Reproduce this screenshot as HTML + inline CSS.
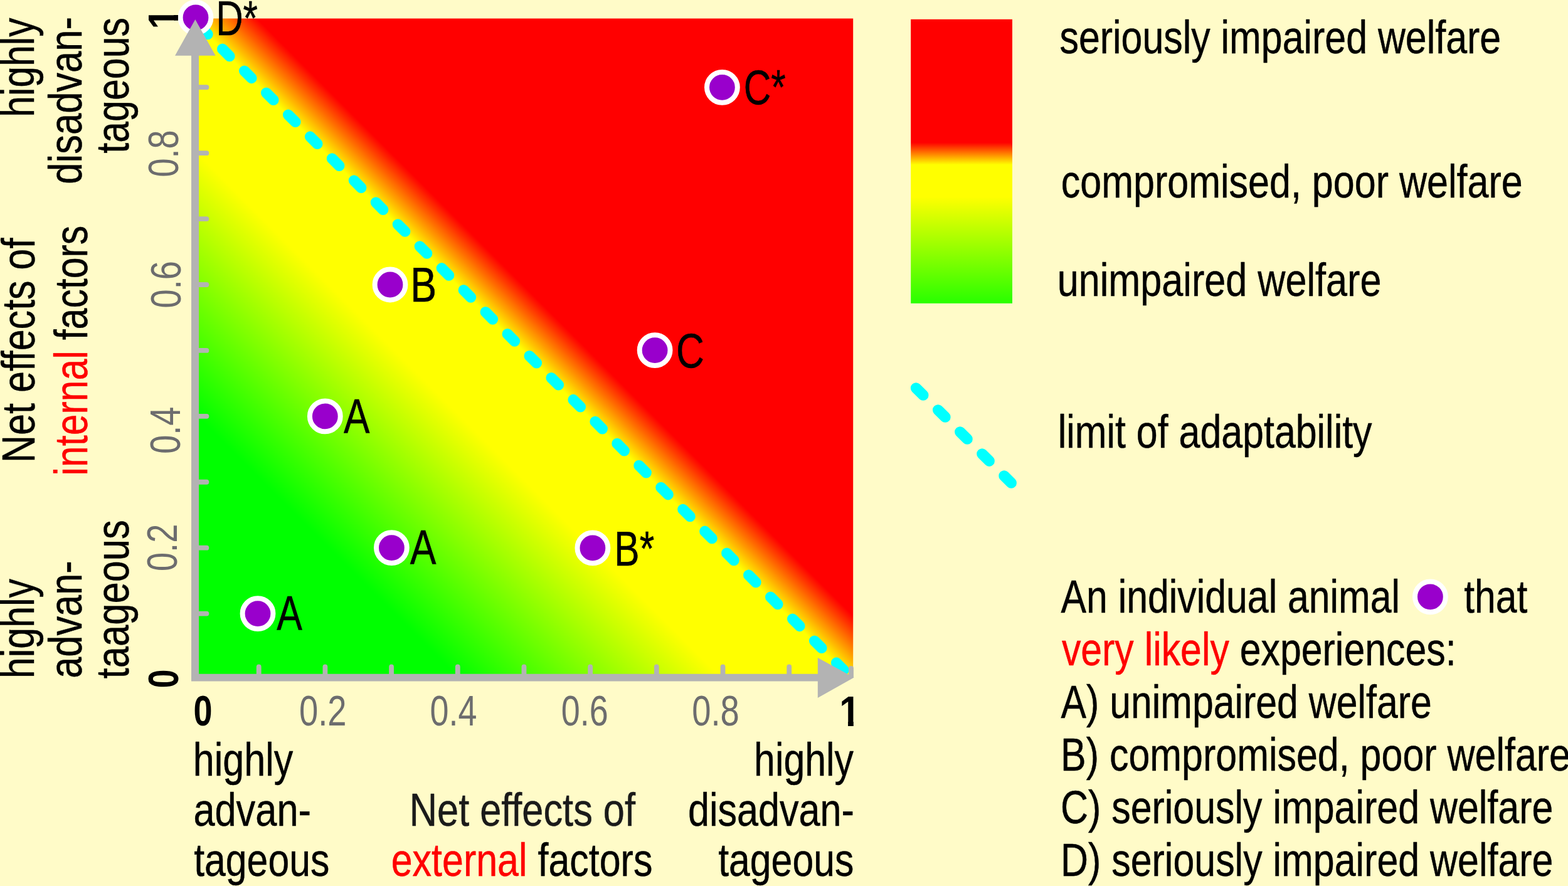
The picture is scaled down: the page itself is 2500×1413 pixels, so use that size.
<!DOCTYPE html>
<html lang="en"><head><meta charset="utf-8"><title>Welfare and the limit of adaptability</title>
<style>
html,body{margin:0;padding:0;background:#FFFBC8;}
body{width:2500px;height:1413px;overflow:hidden;}
svg{display:block;}
text{font-family:"Liberation Sans",Arial,Helvetica,sans-serif;font-size:75px;fill:#000;stroke:#000;stroke-width:0.5px;stroke-linejoin:round;}
.tk{font-size:68px;fill:#6C6C6E;stroke:none;}
.tb{font-size:68px;font-weight:bold;stroke:none;}
.d{fill:#1A1A1A;stroke:#1A1A1A;}
.r{fill:#FF0000;stroke:#FF0000;}
</style></head><body>
<svg width="2500" height="1413" viewBox="0 0 2500 1413">
<defs>
<linearGradient id="g" x1="0" y1="1" x2="1" y2="0">
<stop offset="0" stop-color="#00FF00"/>
<stop offset="0.2" stop-color="#00FF00"/>
<stop offset="0.4" stop-color="#FFFF00"/>
<stop offset="0.497" stop-color="#FFFF00"/>
<stop offset="0.547" stop-color="#FF0000"/>
<stop offset="1" stop-color="#FF0000"/>
</linearGradient>
<linearGradient id="lg" x1="0" y1="0" x2="0" y2="1">
<stop offset="0" stop-color="#FF0000"/>
<stop offset="0.434" stop-color="#FF0000"/>
<stop offset="0.512" stop-color="#FFFF00"/>
<stop offset="0.625" stop-color="#FFFF00"/>
<stop offset="1" stop-color="#28FF00"/>
</linearGradient>
<clipPath id="one"><path d="M-20 -80 H80 V-8.14 H25.5 V10 H15.57 V-8.14 H-20 Z"/></clipPath>
</defs>
<rect id="bg" x="0" y="0" width="2500" height="1413" fill="#FFFBC8"/>
<g id="shapes">
<rect x="311" y="29.5" width="1049.2" height="1051" fill="url(#g)"/>
<line x1="319.7" y1="43.2" x2="1345.2" y2="1068.7" stroke="#00FFFF" stroke-width="17.3" stroke-linecap="round" stroke-dasharray="16.1 33.34"/>
<circle cx="411" cy="978.6" r="24.4" fill="#9900CC" stroke="#FFFFFF" stroke-width="8"/>
<circle cx="624.4" cy="873.6" r="24.4" fill="#9900CC" stroke="#FFFFFF" stroke-width="8"/>
<circle cx="518.3" cy="663.9" r="24.4" fill="#9900CC" stroke="#FFFFFF" stroke-width="8"/>
<circle cx="622" cy="454" r="24.4" fill="#9900CC" stroke="#FFFFFF" stroke-width="8"/>
<circle cx="944.9" cy="873.9" r="24.4" fill="#9900CC" stroke="#FFFFFF" stroke-width="8"/>
<circle cx="1044.1" cy="558.6" r="24.4" fill="#9900CC" stroke="#FFFFFF" stroke-width="8"/>
<circle cx="1151.4" cy="139.3" r="24.4" fill="#9900CC" stroke="#FFFFFF" stroke-width="8"/>
<circle cx="312" cy="28" r="24.4" fill="#9900CC" stroke="#FFFFFF" stroke-width="8"/>
<g stroke="#B3B3B3" stroke-width="7.8" stroke-linecap="round" fill="none">
<line x1="412.7" y1="1080.5" x2="412.7" y2="1063.4"/>
<line x1="518.39" y1="1080.5" x2="518.39" y2="1063.4"/>
<line x1="624.08" y1="1080.5" x2="624.08" y2="1063.4"/>
<line x1="729.77" y1="1080.5" x2="729.77" y2="1063.4"/>
<line x1="835.46" y1="1080.5" x2="835.46" y2="1063.4"/>
<line x1="941.15" y1="1080.5" x2="941.15" y2="1063.4"/>
<line x1="1046.84" y1="1080.5" x2="1046.84" y2="1063.4"/>
<line x1="1152.53" y1="1080.5" x2="1152.53" y2="1063.4"/>
<line x1="1258.22" y1="1080.5" x2="1258.22" y2="1063.4"/>
<line x1="311.0" y1="978.58" x2="329.4" y2="978.58"/>
<line x1="311.0" y1="873.66" x2="329.4" y2="873.66"/>
<line x1="311.0" y1="768.74" x2="329.4" y2="768.74"/>
<line x1="311.0" y1="663.82" x2="329.4" y2="663.82"/>
<line x1="311.0" y1="558.9" x2="329.4" y2="558.9"/>
<line x1="311.0" y1="453.98" x2="329.4" y2="453.98"/>
<line x1="311.0" y1="349.06" x2="329.4" y2="349.06"/>
<line x1="311.0" y1="244.14" x2="329.4" y2="244.14"/>
<line x1="311.0" y1="139.22" x2="329.4" y2="139.22"/>
</g>
<path d="M305 1086.6 H1310 V1074.7 H317.1 V60 H305 Z" fill="#B3B3B3"/>
<path d="M311.3 31 L343.6 88.7 H279 Z" fill="#B3B3B3"/>
<path d="M1361.6 1080.6 L1303.8 1049 V1113 Z" fill="#B3B3B3"/>
<path d="M1353.1 1080.6 V1065.8 A3.9 3.9 0 0 1 1360.9 1065.8 V1080.6 Z" fill="#B3B3B3"/>
<rect x="1452.2" y="30.8" width="161.8" height="453" fill="url(#lg)"/>
<line x1="1460.5" y1="618.8" x2="1612.3" y2="770.2" stroke="#00FFFF" stroke-width="17.3" stroke-linecap="round" stroke-dasharray="16.1 33.5"/>
<circle cx="2280.4" cy="951.8" r="24.4" fill="#9900CC" stroke="#FFFFFF" stroke-width="8"/>
</g>
<g id="pA1" transform="translate(441.22 1005) scale(0.8132 1.04)"><text>A</text></g>
<g id="pA2" transform="translate(653.8 900) scale(0.8334 1.04)"><text>A</text></g>
<g id="pA3" transform="translate(548.06 690.8) scale(0.8302 1.04)"><text>A</text></g>
<g id="pB" transform="translate(654.26 480.8) scale(0.8373 1.04)"><text>B</text></g>
<g id="pBs" transform="translate(979.37 901.6) scale(0.8053 1.04)"><text>B*</text></g>
<g id="pC" transform="translate(1077.89 585.8) scale(0.8273 1.04)"><text>C</text></g>
<g id="pCs" transform="translate(1185.66 166) scale(0.8043 1.04)"><text>C*</text></g>
<g id="pDs" transform="translate(344.18 55.5) scale(0.8023 1.04)"><text>D*</text></g>
<g id="x0" transform="translate(308.47 1157) scale(0.7941 1)"><text class="tb">0</text></g>
<g id="x2" transform="translate(476.95 1156.8) scale(0.8002 1)"><text class="tk">0.2</text></g>
<g id="x4" transform="translate(685.58 1156.8) scale(0.7925 1)"><text class="tk">0.4</text></g>
<g id="x6" transform="translate(894.87 1156.8) scale(0.7931 1)"><text class="tk">0.6</text></g>
<g id="x8" transform="translate(1103.19 1156.8) scale(0.8005 1)"><text class="tk">0.8</text></g>
<g id="x1" transform="translate(1338.36 1157.5) scale(0.8800 1)"><text class="tb" clip-path="url(#one)">1</text></g>
<g id="y0" transform="translate(284 1097.5) rotate(-90) scale(0.7950 1)"><text class="tb">0</text></g>
<g id="y2" transform="translate(281.6 911.06) rotate(-90) scale(0.7970 1)"><text class="tk">0.2</text></g>
<g id="y4" transform="translate(286.6 723.83) rotate(-90) scale(0.7930 1)"><text class="tk">0.4</text></g>
<g id="y6" transform="translate(288 491.44) rotate(-90) scale(0.7970 1)"><text class="tk">0.6</text></g>
<g id="y8" transform="translate(284.1 282.6) rotate(-90) scale(0.7970 1)"><text class="tk">0.8</text></g>
<g id="y1" transform="translate(284 46.5) rotate(-90) scale(0.8800 1)"><text class="tb" clip-path="url(#one)">1</text></g>
<g id="xl1" transform="translate(307.78 1237.3) scale(0.8143 1)"><text>highly</text></g>
<g id="xl2" transform="translate(308.38 1317.4) scale(0.8180 1)"><text>advan-</text></g>
<g id="xl3" transform="translate(309.24 1397.1) scale(0.8095 1)"><text>tageous</text></g>
<g id="xc1" transform="translate(652.74 1317.4) scale(0.8180 1)"><text class="d">Net effects of</text></g>
<g id="xc2" transform="translate(623.69 1397.1) scale(0.8128 1)"><text><tspan class="r">external</tspan> factors</text></g>
<g id="xr1" transform="translate(1202.12 1237.3) scale(0.8102 1)"><text>highly</text></g>
<g id="xr2" transform="translate(1096.93 1317.4) scale(0.8148 1)"><text>disadvan-</text></g>
<g id="xr3" transform="translate(1145.24 1397.1) scale(0.8095 1)"><text>tageous</text></g>
<g id="yt1" transform="translate(53.7 186.65) rotate(-90) scale(0.8079 1)"><text>highly</text></g>
<g id="yt2" transform="translate(129.8 293.65) rotate(-90) scale(0.8200 1)"><text>disadvan-</text></g>
<g id="yt3" transform="translate(205.3 244.79) rotate(-90) scale(0.8123 1)"><text>tageous</text></g>
<g id="yc1" transform="translate(55 737.94) rotate(-90) scale(0.8136 1)"><text>Net effects of</text></g>
<g id="yc2" transform="translate(139.2 758.52) rotate(-90) scale(0.8106 1)"><text><tspan class="r">internal</tspan> factors</text></g>
<g id="yb1" transform="translate(53.7 1082.06) rotate(-90) scale(0.8115 1)"><text>highly</text></g>
<g id="yb2" transform="translate(129.8 1081.83) rotate(-90) scale(0.8177 1)"><text>advan-</text></g>
<g id="yb3" transform="translate(205.3 1082.26) rotate(-90) scale(0.8200 1)"><text>taageous</text></g>
<g id="l1" transform="translate(1689.51 84.5) scale(0.8116 1)"><text>seriously impaired welfare</text></g>
<g id="l2" transform="translate(1691.69 315) scale(0.8139 1)"><text>compromised, poor welfare</text></g>
<g id="l3" transform="translate(1685.76 472) scale(0.8156 1)"><text>unimpaired welfare</text></g>
<g id="l4" transform="translate(1686.73 713.6) scale(0.8119 1)"><text>limit of adaptability</text></g>
<g id="l5" transform="translate(1691.52 977) scale(0.8105 1)"><text>An individual animal</text></g>
<g id="l6" transform="translate(2334.22 977) scale(0.8084 1)"><text>that</text></g>
<g id="l7" transform="translate(1692.88 1061.2) scale(0.8111 1)"><text><tspan class="r">very likely</tspan> experiences:</text></g>
<g id="l8" transform="translate(1691.52 1145) scale(0.8107 1)"><text>A) unimpaired welfare</text></g>
<g id="l9" transform="translate(1691.04 1228.8) scale(0.8128 1)"><text>B) compromised, poor welfare</text></g>
<g id="l10" transform="translate(1691.02 1312.9) scale(0.8122 1)"><text>C) seriously impaired welfare</text></g>
<g id="l11" transform="translate(1691.05 1397) scale(0.8124 1)"><text>D) seriously impaired welfare</text></g>
</svg>
</body></html>
